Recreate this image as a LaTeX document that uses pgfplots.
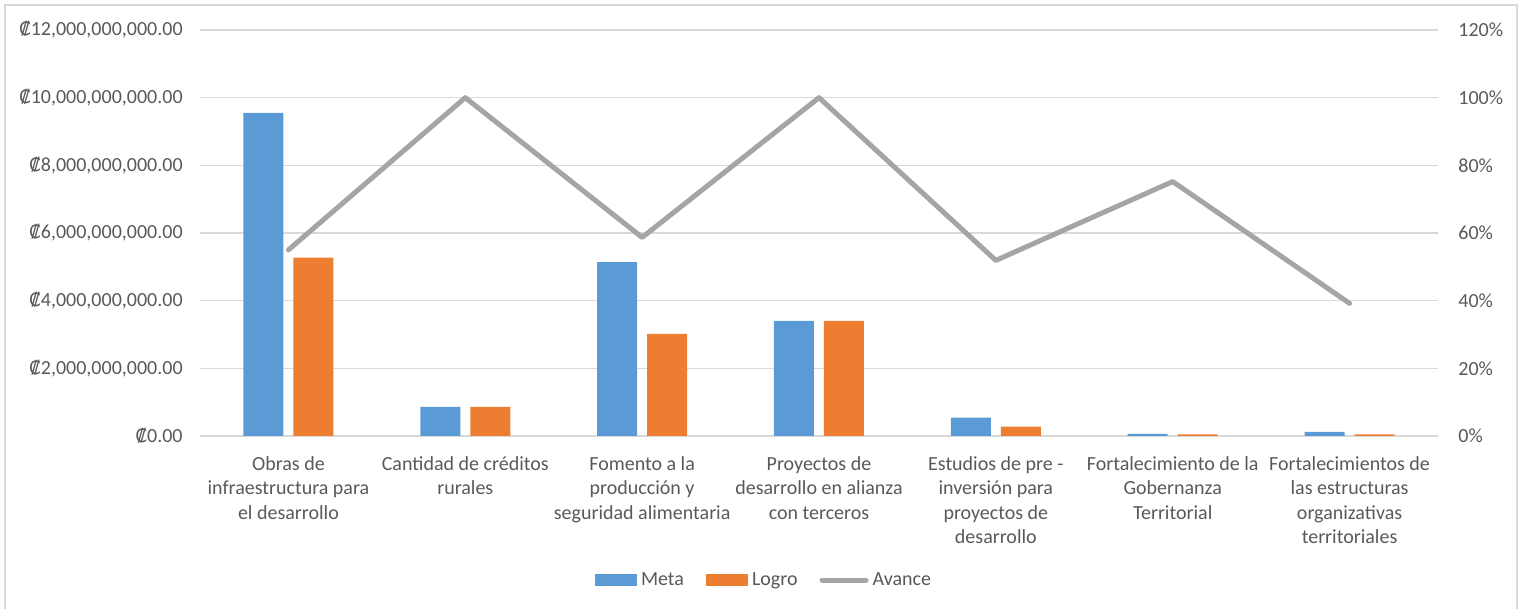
\documentclass[border=0pt]{standalone}
\usepackage{pgfplots}
\pgfplotsset{compat=1.18}
\usepackage{fontspec}
\setmainfont{Carlito}
\newfontfamily\colonfont{DejaVu Sans}

\definecolor{metablue}{HTML}{5B9BD5}
\definecolor{logroorange}{HTML}{ED7D31}
\definecolor{avgray}{HTML}{A5A5A5}
\definecolor{gridgray}{HTML}{D9D9D9}
\definecolor{labelgray}{HTML}{595959}

\newcommand{\col}{{\colonfont\fontsize{9.2pt}{11pt}\selectfont ₡}}

\begin{document}
\begin{tikzpicture}[font=\fontsize{10pt}{12.2pt}\selectfont]
\useasboundingbox (-100pt,-86.5pt) rectangle (661pt,218pt);
% chart frame
\draw[gridgray, line width=0.8pt] (-97.5pt,-90pt) -- (-97.5pt,215.5pt) -- (658.5pt,215.5pt) -- (658.5pt,-90pt);

% bars on the amount axis
\begin{axis}[
  at={(0pt,0pt)}, anchor=south west,
  scale only axis, width=619pt, height=203pt,
  xmin=-0.5, xmax=6.5,
  ymin=0, ymax=12000000000,
  scaled y ticks=false,
  axis line style={draw=none},
  major tick length=0pt,
  ytick={0,2000000000,4000000000,6000000000,8000000000,10000000000,12000000000},
  yticklabels={\col0.00, \col{}2{,}000{,}000{,}000.00, \col{}4{,}000{,}000{,}000.00, \col{}6{,}000{,}000{,}000.00, \col{}8{,}000{,}000{,}000.00, \col{}10{,}000{,}000{,}000.00, \col{}12{,}000{,}000{,}000.00},
  yticklabel style={inner sep=0pt, xshift=-8.5pt, text=labelgray},
  ymajorgrids, grid style={gridgray, line width=0.8pt},
  xtick={0,1,2,3,4,5,6},
  xticklabels={
    {Obras de\\infraestructura para\\el desarrollo},
    {Cantidad de créditos\\rurales},
    {Fomento a la\\producción y\\seguridad alimentaria},
    {Proyectos de\\desarrollo en alianza\\con terceros},
    {Estudios de pre -\\inversión para\\proyectos de\\desarrollo},
    {Fortalecimiento de la\\Gobernanza\\Territorial},
    {Fortalecimientos de\\las estructuras\\organizativas\\territoriales}},
  xticklabel style={align=center, inner sep=0pt, yshift=-10pt, text=labelgray, anchor=north},
  ybar, bar width=20pt,
  legend style={at={(axis description cs:0.4564,-0.355)}, anchor=center, draw=none,
    legend columns=3, font=\fontsize{10pt}{12pt}\selectfont, text=labelgray,
    /tikz/every even column/.append style={column sep=9pt}},
  legend cell align=left,
]
\addplot[fill=metablue, draw=none, bar shift=-12.5pt,
  legend image code/.code={\fill[metablue] (0pt,-3pt) rectangle (21pt,3pt);}]
  coordinates {(0,9550000000) (1,860000000) (2,5140000000) (3,3400000000) (4,540000000) (5,65000000) (6,120000000)};
\addlegendentry{Meta}
\addplot[fill=logroorange, draw=none, bar shift=12.5pt,
  legend image code/.code={\fill[logroorange] (0pt,-3pt) rectangle (21pt,3pt);}]
  coordinates {(0,5270000000) (1,860000000) (2,3020000000) (3,3400000000) (4,280000000) (5,49000000) (6,47000000)};
\addlegendentry{Logro}
\addlegendimage{legend image code/.code={\draw[avgray, line width=2.5pt, line cap=round] (0pt,0pt) -- (22pt,0pt);}}
\addlegendentry{Avance}
\end{axis}

% progress line on the percentage axis
\begin{axis}[
  at={(0pt,0pt)}, anchor=south west,
  scale only axis, width=619pt, height=203pt,
  xmin=-0.5, xmax=6.5,
  ymin=0, ymax=120,
  axis x line=none,
  axis y line*=right,
  y axis line style={draw=none},
  major tick length=0pt,
  ytick={0,20,40,60,80,100,120},
  yticklabels={0\%,20\%,40\%,60\%,80\%,100\%,120\%},
  yticklabel style={inner sep=0pt, xshift=10pt, text=labelgray, anchor=west},
]
\addplot[avgray, line width=2.5pt, line cap=round, line join=round, mark=none]
  coordinates {(0,55.0) (1,100) (2,58.7) (3,100) (4,51.9) (5,75.2) (6,39.2)};
\end{axis}
\end{tikzpicture}
\end{document}
